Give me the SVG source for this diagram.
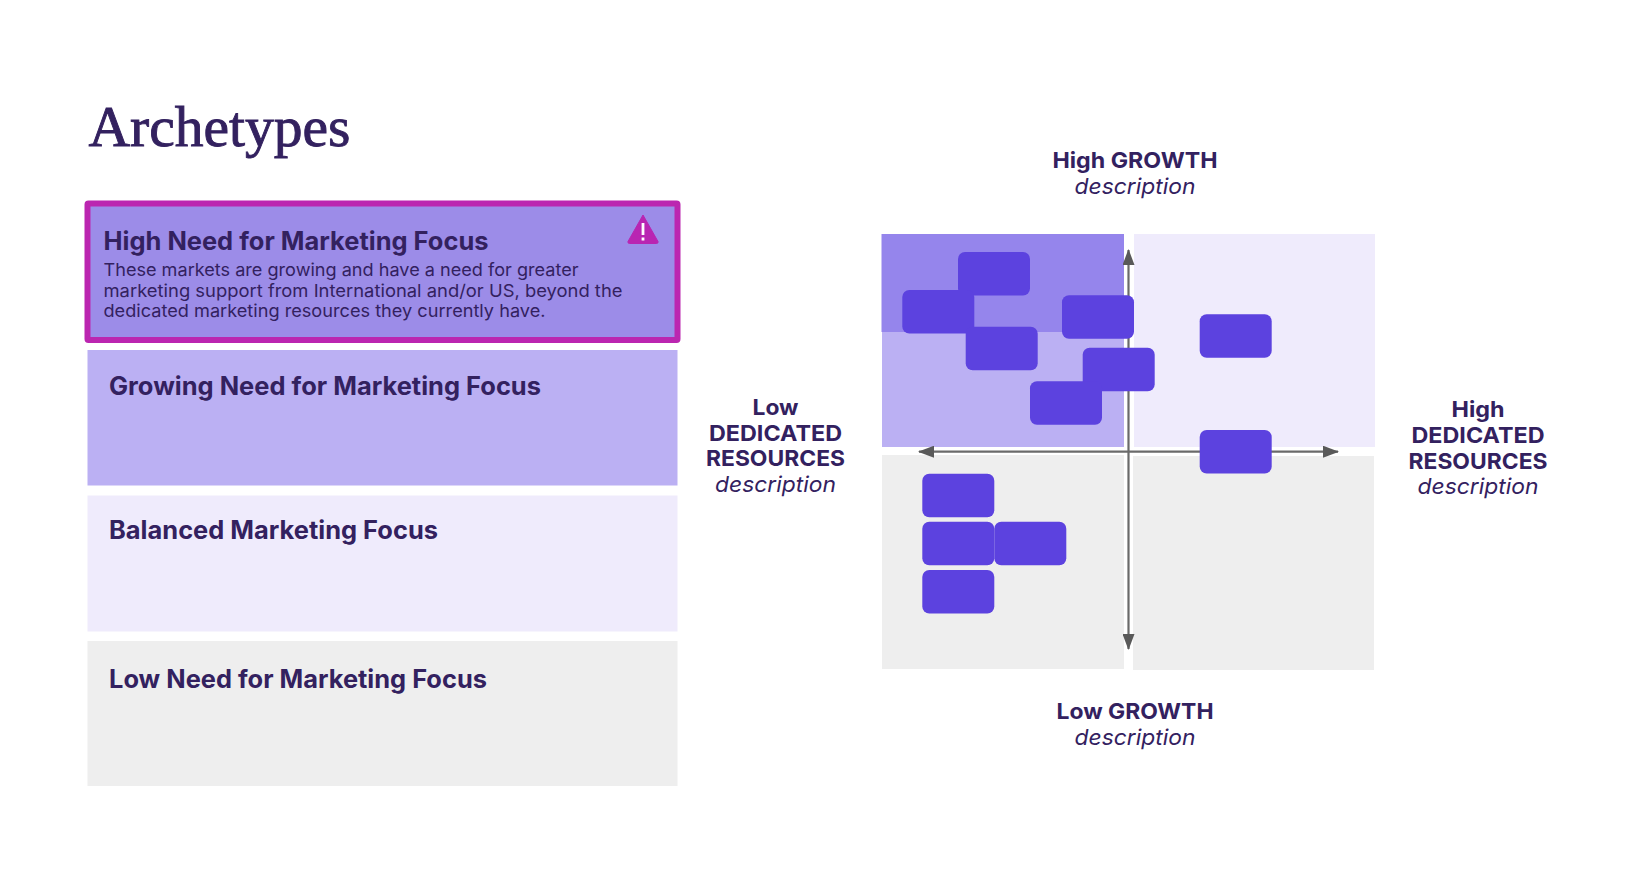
<svg xmlns="http://www.w3.org/2000/svg" width="1652" height="896" viewBox="0 0 1652 896">
<style>
text{font-family:"Inter","Liberation Sans",sans-serif;fill:#33215f}
.t{font-size:25px;font-weight:700}
.p{font-size:17.5px;font-weight:400}
.a{font-size:22px;font-weight:700;text-anchor:middle}
.d{font-size:22px;font-style:italic;font-weight:400;text-anchor:middle}
.n{fill:#5c42df}
.ax{stroke:#6a6a6a;stroke-width:2.2;fill:none}
</style>
<defs>
<marker id="ah" viewBox="0 0 16 12" refX="15" refY="6" markerUnits="userSpaceOnUse" markerWidth="16" markerHeight="12" orient="auto-start-reverse"><path d="M0 0L16 6L0 12Z" fill="#595959"/></marker>
</defs>
<rect width="1652" height="896" fill="#fff"/>
<text x="88.500" y="146" textLength="262" lengthAdjust="spacingAndGlyphs" style="font-family:'Liberation Serif',serif;font-size:58px;font-weight:400;stroke:#33215f;stroke-width:.9">Archetypes</text>
<g id="band-high">
<rect x="87.500" y="203.500" width="590" height="136.500" rx="1" fill="#9c8ce8" stroke="#bb26b0" stroke-width="6"/>
<text class="t" x="103.500" y="250" textLength="385" lengthAdjust="spacingAndGlyphs">High Need for Marketing Focus</text>
<text class="p" x="103.500" y="276" textLength="475" lengthAdjust="spacingAndGlyphs">These markets are growing and have a need for greater</text>
<text class="p" x="103.500" y="297" textLength="519" lengthAdjust="spacingAndGlyphs">marketing support from International and/or US, beyond the</text>
<text class="p" x="103.500" y="317" textLength="442" lengthAdjust="spacingAndGlyphs">dedicated marketing resources they currently have.</text>
<path d="M643 215L658 241.500Q658.500 243.500 656.500 243.500H629.500Q627.500 243.500 628 241.500Z" fill="#b925b2" stroke="#b925b2" stroke-linejoin="round"/>
<path d="M643 223V235M643 237.500V240.500" stroke="#fff" stroke-width="2.800" fill="none"/>
</g>
<g id="band-growing">
<rect x="87.500" y="350" width="590" height="135.500" fill="#bbb0f3"/>
<text class="t" x="109" y="395" textLength="432" lengthAdjust="spacingAndGlyphs">Growing Need for Marketing Focus</text>
</g>
<g id="band-balanced">
<rect x="87.500" y="495.500" width="590" height="136" fill="#efebfc"/>
<text class="t" x="109" y="539" textLength="329" lengthAdjust="spacingAndGlyphs">Balanced Marketing Focus</text>
</g>
<g id="band-low">
<rect x="87.500" y="641" width="590" height="145" fill="#eeeeee"/>
<text class="t" x="109" y="688" textLength="378" lengthAdjust="spacingAndGlyphs">Low Need for Marketing Focus</text>
</g>
<g id="quadrants">
<rect x="882" y="234" width="242" height="213" fill="#bbb0f3"/>
<rect x="881.500" y="234" width="242.500" height="98" fill="#9585ec"/>
<rect x="1134" y="234" width="241" height="213" fill="#efebfc"/>
<rect x="882" y="455" width="242" height="214" fill="#eeeeee"/>
<rect x="1133" y="456" width="241" height="214" fill="#eeeeee"/>
</g>
<g id="connectors">
<line class="ax" x1="1128.500" y1="324" x2="1128.500" y2="250" marker-end="url(#ah)"/>
<line class="ax" x1="1128.500" y1="324" x2="1128.500" y2="649" marker-end="url(#ah)"/>
<line class="ax" x1="1128.500" y1="451.700" x2="919" y2="451.700" marker-end="url(#ah)"/>
<line class="ax" x1="1128.500" y1="451.700" x2="1338" y2="451.700" marker-end="url(#ah)"/>
</g>
<g id="node-1"><rect class="n" x="958" y="252" width="72" height="43.500" rx="7"/></g>
<g id="node-2"><rect class="n" x="902.300" y="290" width="72" height="43.500" rx="7"/></g>
<g id="node-3"><rect class="n" x="1062" y="295.300" width="72" height="43.500" rx="7"/></g>
<g id="node-4"><rect class="n" x="965.700" y="326.700" width="72" height="43.500" rx="7"/></g>
<g id="node-5"><rect class="n" x="1082.700" y="347.700" width="72" height="43.500" rx="7"/></g>
<g id="node-6"><rect class="n" x="1030" y="381.300" width="72" height="43.500" rx="7"/></g>
<g id="node-7"><rect class="n" x="1199.700" y="314.300" width="72" height="43.500" rx="7"/></g>
<g id="node-8"><rect class="n" x="1199.700" y="430" width="72" height="43.500" rx="7"/></g>
<g id="node-9"><rect class="n" x="922.300" y="473.700" width="72" height="43.500" rx="7"/></g>
<g id="node-10"><rect class="n" x="922.300" y="521.700" width="72" height="43.500" rx="7"/></g>
<g id="node-11"><rect class="n" x="994.300" y="521.700" width="72" height="43.500" rx="7"/></g>
<g id="node-12"><rect class="n" x="922.300" y="570" width="72" height="43.500" rx="7"/></g>
<g id="label-top">
<text class="a" x="1135" y="168" textLength="165" lengthAdjust="spacingAndGlyphs">High GROWTH</text>
<text class="d" x="1135" y="194" textLength="121" lengthAdjust="spacingAndGlyphs">description</text>
</g>
<g id="label-bottom">
<text class="a" x="1135" y="719" textLength="157" lengthAdjust="spacingAndGlyphs">Low GROWTH</text>
<text class="d" x="1135" y="745" textLength="121" lengthAdjust="spacingAndGlyphs">description</text>
</g>
<g id="label-left">
<text class="a" x="775.500" y="415" textLength="46" lengthAdjust="spacingAndGlyphs">Low</text>
<text class="a" x="775.500" y="441" textLength="133" lengthAdjust="spacingAndGlyphs">DEDICATED</text>
<text class="a" x="775.500" y="466" textLength="139" lengthAdjust="spacingAndGlyphs">RESOURCES</text>
<text class="d" x="775.500" y="492" textLength="121" lengthAdjust="spacingAndGlyphs">description</text>
</g>
<g id="label-right">
<text class="a" x="1478" y="417" textLength="53" lengthAdjust="spacingAndGlyphs">High</text>
<text class="a" x="1478" y="443" textLength="133" lengthAdjust="spacingAndGlyphs">DEDICATED</text>
<text class="a" x="1478" y="468.500" textLength="139" lengthAdjust="spacingAndGlyphs">RESOURCES</text>
<text class="d" x="1478" y="494" textLength="121" lengthAdjust="spacingAndGlyphs">description</text>
</g>
</svg>
